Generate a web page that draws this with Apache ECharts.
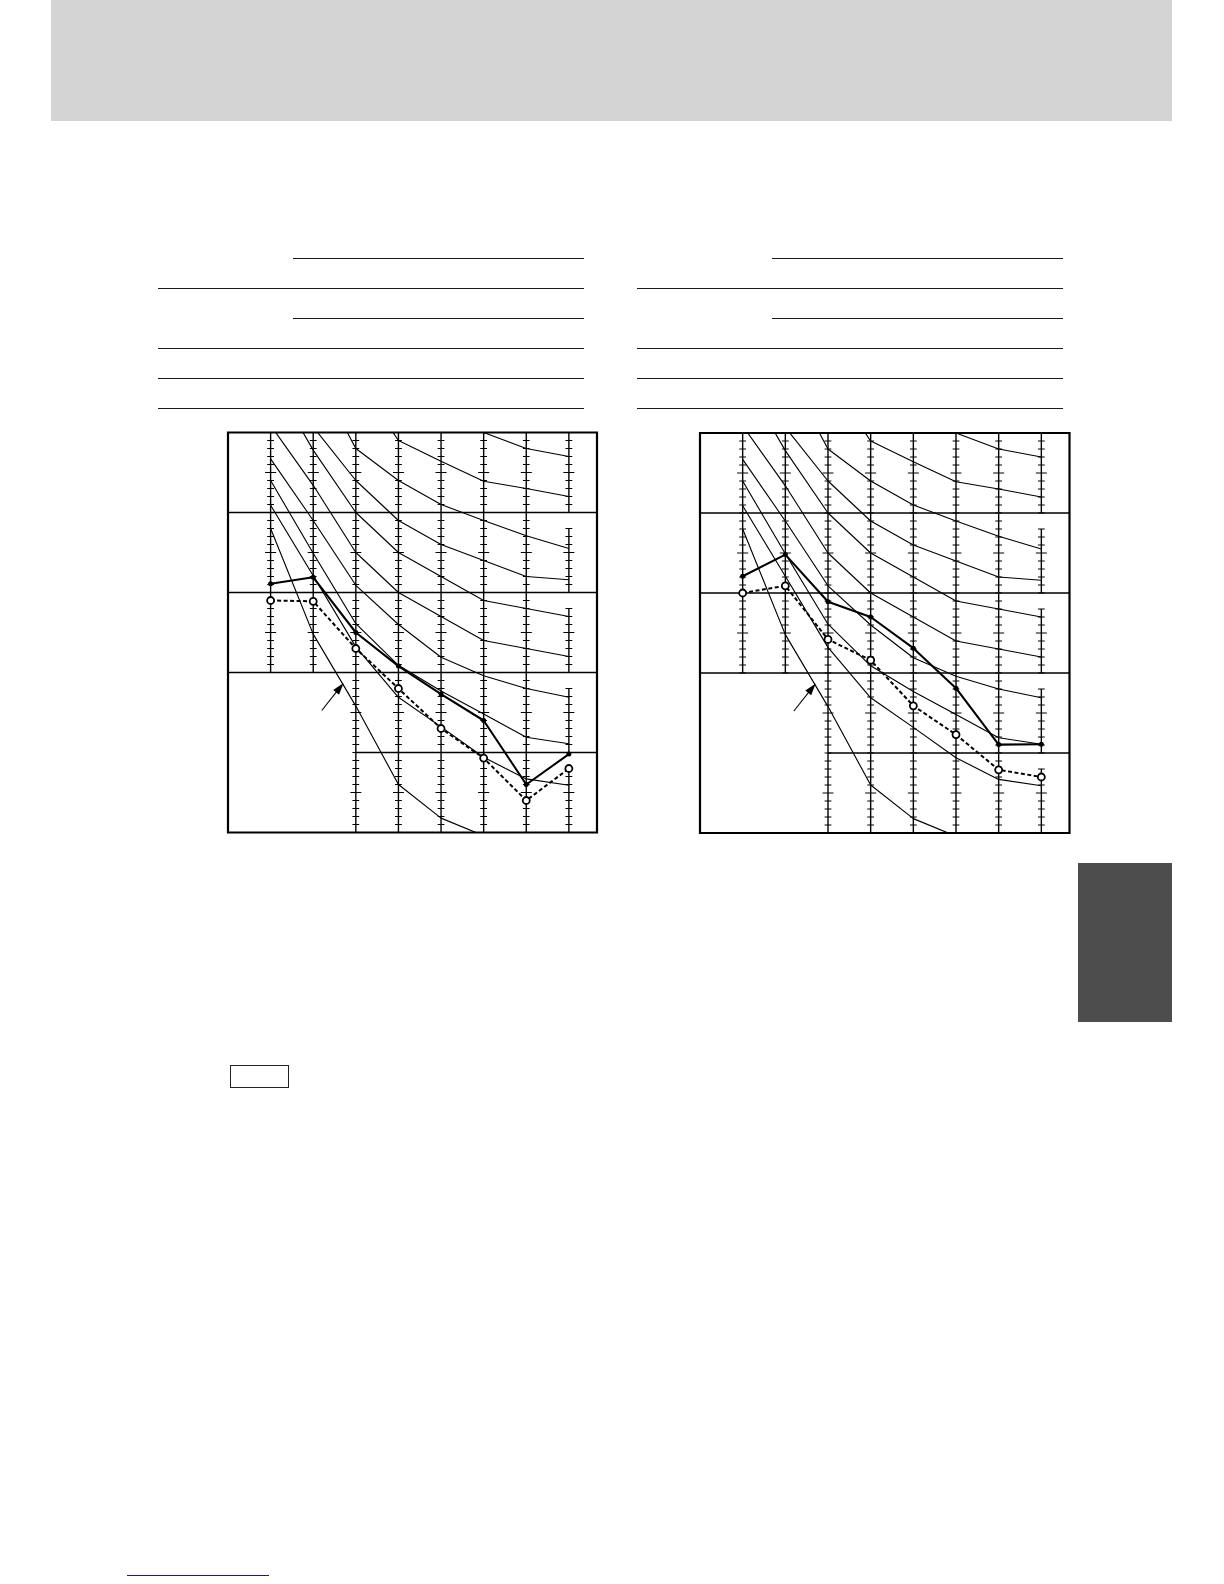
<!DOCTYPE html>
<html>
<head>
<meta charset="utf-8">
<script src="https://cdn.jsdelivr.net/npm/echarts/dist/echarts.min.js"></script>
<style>
  html, body { margin: 0; padding: 0; background: #fff; }
  #page { position: relative; width: 1224px; height: 1584px; overflow: hidden; }
  #chart { position: absolute; left: 0; top: 0; width: 1224px; height: 1584px; }
  .deco { position: absolute; }
  .rule { position: absolute; height: 1.4px; background: #1a1a1a; }
</style>
</head>
<body>
<div id="page">
  <div class="deco" style="left:50.5px;top:0;width:1121.5px;height:121px;background:#d4d4d4;"></div>
  <div class="deco" style="left:1078px;top:863px;width:94px;height:159px;background:#4d4d4d;"></div>
  <div class="deco" style="left:230px;top:1065px;width:57px;height:20.5px;border:1.3px solid #222;"></div>
  <div class="deco" style="left:126.7px;top:1574.5px;width:142.3px;height:1.3px;background:#1c1c80;"></div>
  <div id="rules"></div>
  <div id="chart"></div>
</div>
<script>
// Octave band centre frequencies (x categories, Hz)
const bands = ['63', '125', '250', '500', '1000', '2000', '4000', '8000'];

// Reference curves (y units = one minor tick, 10 per band)
const curveA = [73, 66, 60, 56, 52.5, 50, 48, 47];
const curveB = [70, 63, 56.9, 49, 46.4, 43.9, 43, 42];
const curveC = [66, 58, 48, 44, 41, 39, 37.1, 35.5];
const curveD = [59, 50.7, 44, 39, 36, 34, 32, 31.6];
const curveE = [57, 47.8, 40, 35, 32, 29, 28, 27];
const curveF = [50.9, 43.4, 35, 30, 27, 24, 23, 22];
const curveG = [46.7, 39.0, 30.9, 26.0, 21.9, 19.6, 18.0, 16.9];
const curveH = [44.0, 34.9, 26.1, 20.9, 17.7, 14.8, 11.9, 11.1];
const curveI = [40.9, 32.1, 23.2, 16.9, 13.2, 9.4, 6.7, 5.9];
// approximate threshold of hearing (arrowed curve)
const threshold = [38.0, 24.8, 15.8, 6.0, 1.8, -0.4, -2.5, -3.5];

// Measured spectra, left chart
const leftSolid = [31.1, 31.9, 25.0, 20.8, 17.3, 14.0, 6.0, 9.8];
const leftDashed = [29.0, 28.9, 23.0, 18.0, 13.0, 9.3, 4.0, 8.0];
// Measured spectra, right chart
const rightSolid = [32.1, 34.8, 28.9, 27.0, 23.1, 18.1, 11.05, 11.1];
const rightDashed = [30.0, 30.9, 24.2, 21.6, 15.9, 12.3, 7.9, 7.0];

const curves = [curveA, curveB, curveC, curveD, curveE, curveF, curveG, curveH, curveI];

// ---- decorative table rules above the charts ----
(function () {
  const rows = [[258.3, true], [288.3, false], [318.3, true], [348.3, false], [378.3, false], [408.3, false]];
  const sets = [{ longX: 157.7, shortX: 292.7, end: 584 }, { longX: 637, shortX: 772, end: 1062.5 }];
  const host = document.getElementById('rules');
  sets.forEach(s => rows.forEach(([y, short]) => {
    const d = document.createElement('div');
    d.className = 'rule';
    const x0 = short ? s.shortX : s.longX;
    d.style.left = x0 + 'px';
    d.style.top = (y - 0.7) + 'px';
    d.style.width = (s.end - x0) + 'px';
    host.appendChild(d);
  }));
})();

const toXY = arr => arr.map((v, i) => [i, v]);

function renderRuler(params, api) {
  const c = api.value(0), top = api.value(1), bot = api.value(2);
  const p1 = api.coord([c, top]), p2 = api.coord([c, bot]);
  const children = [{
    type: 'line',
    shape: { x1: p1[0], y1: p1[1], x2: p2[0], y2: p2[1] },
    style: { stroke: '#000', lineWidth: 1.4 }
  }];
  for (let v = Math.ceil(bot); v <= top; v++) {
    if (v === 0 || v === 50) continue;
    const p = api.coord([c, v]);
    const half = (v % 10 === 5) ? 5.5 : 3.4;
    children.push({
      type: 'line',
      shape: { x1: p[0] - half, y1: p[1], x2: p[0] + half, y2: p[1] },
      style: { stroke: '#000', lineWidth: 1 }
    });
  }
  return { type: 'group', children };
}

function rulerData() {
  const d = [];
  bands.forEach((b, i) => {
    if (i < 2) d.push([i, 50, 20]);
    else if (i < 7) d.push([i, 50, 0]);
    else {
      d.push([i, 50, 40]); d.push([i, 38, 30]); d.push([i, 28, 20]); d.push([i, 18, 10]); d.push([i, 8, 0]);
    }
  });
  return d;
}

const XMIN = -1, XMAX = 7.66;

function seriesFor(gi, solid, dashed) {
  const s = [];
  s.push({
    type: 'custom', xAxisIndex: gi, yAxisIndex: gi, renderItem: renderRuler,
    data: rulerData(), silent: true, z: 1, clip: false
  });
  const bandLines = [[40, XMIN], [30, XMIN], [20, XMIN], [10, 2]];
  bandLines.forEach(([v, x0]) => s.push({
    type: 'line', xAxisIndex: gi, yAxisIndex: gi, data: [[x0, v], [XMAX, v]],
    symbol: 'none', silent: true, z: 2,
    lineStyle: { color: '#000', width: 1.3 }
  }));
  curves.forEach(c => s.push({
    type: 'line', xAxisIndex: gi, yAxisIndex: gi, data: toXY(c),
    symbol: 'none', silent: true, z: 3, clip: true,
    lineStyle: { color: '#000', width: 1.15 }
  }));
  s.push({
    type: 'line', xAxisIndex: gi, yAxisIndex: gi, data: toXY(threshold),
    symbol: 'none', silent: true, z: 3, clip: true,
    lineStyle: { color: '#000', width: 1.15 },
    markLine: {
      silent: true, animation: false,
      symbol: ['none', 'path://M5,0 L10,16 L0,16 Z'],
      symbolSize: 12, symbolKeepAspect: true,
      label: { show: false },
      lineStyle: { color: '#000', width: 1.1, type: 'solid' },
      itemStyle: { color: '#000' },
      data: [[{ coord: [1.20, 15.25] }, { coord: [1.625, 18.1] }]]
    }
  });
  s.push({
    type: 'line', xAxisIndex: gi, yAxisIndex: gi, data: toXY(dashed),
    symbol: 'circle', symbolSize: 7, z: 5, clip: false,
    lineStyle: { color: '#000', width: 2, type: [4, 2.5] },
    itemStyle: { color: '#fff', borderColor: '#000', borderWidth: 1.8 }
  });
  s.push({
    type: 'line', xAxisIndex: gi, yAxisIndex: gi, data: toXY(solid),
    symbol: 'circle', symbolSize: 5, z: 6, clip: false,
    lineStyle: { color: '#000', width: 2.1 },
    itemStyle: { color: '#000', borderWidth: 0 }
  });
  return s;
}

const chart = echarts.init(document.getElementById('chart'), null, { renderer: 'canvas' });
chart.setOption({
  animation: false,
  backgroundColor: 'transparent',
  grid: [
    { left: 228, top: 432.5, width: 369, height: 400, show: true, borderColor: '#000', borderWidth: 2.2, backgroundColor: 'transparent', z: 10 },
    { left: 700, top: 433, width: 369.5, height: 400, show: true, borderColor: '#000', borderWidth: 2.2, backgroundColor: 'transparent', z: 10 }
  ],
  xAxis: [0, 1].map(g => ({ type: 'value', gridIndex: g, min: XMIN, max: XMAX, show: false })),
  yAxis: [0, 1].map(g => ({ type: 'value', gridIndex: g, min: 0, max: 50, show: false })),
  series: [].concat(seriesFor(0, leftSolid, leftDashed), seriesFor(1, rightSolid, rightDashed))
});
</script>
</body>
</html>
